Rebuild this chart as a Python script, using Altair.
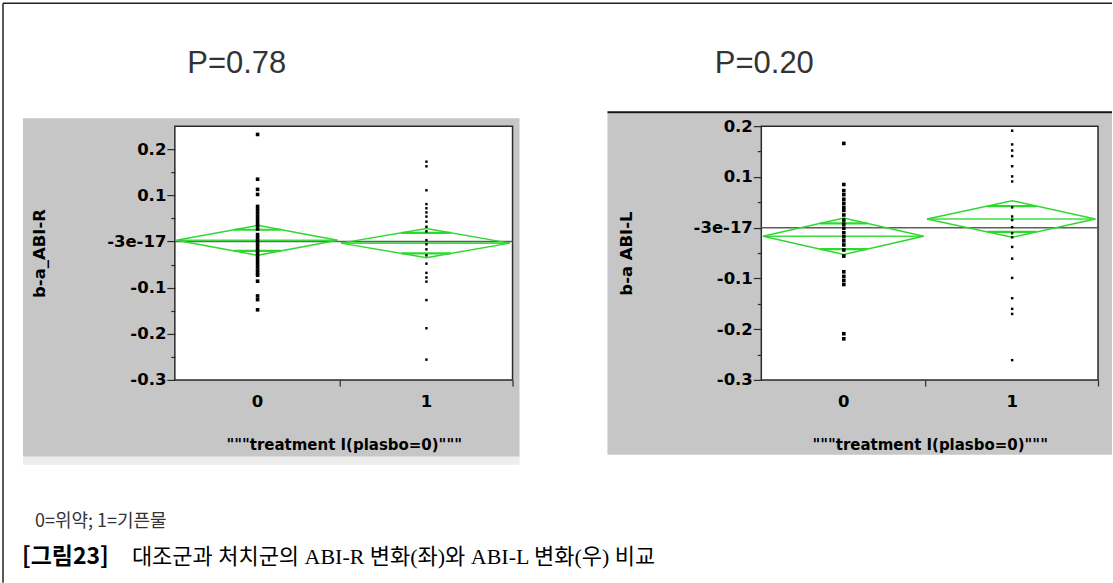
import altair as alt
import pandas as pd

# ---------------- values ----------------
treat_levels = ["0", "1"]

# left panel : b-a_ABI-R
abi_r_placebo = [0.232, 0.135, 0.113, 0.102, 0.076, 0.069, 0.062, 0.055, 0.048,
                 0.041, 0.034, 0.027, 0.015, 0.008, 0.001, -0.006, -0.013, -0.020,
                 -0.027, -0.034, -0.041, -0.048, -0.055, -0.062, -0.068, -0.073,
                 -0.086, -0.118, -0.126, -0.148]
abi_r_treat = [0.173, 0.163, 0.111, 0.081, 0.072, 0.063, 0.054, 0.043, 0.032,
               0.022, 0.003, -0.006, -0.017, -0.030, -0.048, -0.068, -0.078,
               -0.087, -0.127, -0.188, -0.256]
abi_r_mean = [0.0025, -0.0035]
abi_r_ci = [0.0325, 0.0315]

# right panel : b-a ABI-L
abi_l_placebo = [0.166, 0.085, 0.073, 0.065, 0.056, 0.048, 0.040, 0.034, 0.025,
                 0.015, 0.007, -0.001, -0.010, -0.018, -0.026, -0.034, -0.044,
                 -0.056, -0.087, -0.096, -0.104, -0.112, -0.209, -0.219]
abi_l_treat = [0.191, 0.164, 0.152, 0.141, 0.121, 0.101, 0.091, 0.040, 0.022,
               0.015, 0.001, -0.011, -0.019, -0.038, -0.061, -0.099, -0.139,
               -0.160, -0.170, -0.261]
abi_l_mean = [-0.017, 0.017]
abi_l_ci = [0.036, 0.036]

y_ticks_r = [-0.3, -0.25, -0.2, -0.15, -0.1, -0.05, 0.0, 0.05, 0.1, 0.15, 0.2]
y_ticks_l = [-0.3, -0.25, -0.2, -0.15, -0.1, -0.05, 0.0, 0.05, 0.1, 0.15, 0.2]

p_texts = ["P=0.78", "P=0.20"]
y_titles = ["b-a_ABI-R", "b-a ABI-L"]
x_title = '"""treatment I(plasbo=0)"""'
note_text = "0=위약; 1=기픈물"
caption_bold = "[그림23]"
caption_rest = "대조군과 처치군의 ABI-R 변화(좌)와 ABI-L 변화(우) 비교"

# ---------------- layout constants ----------------
H = 254
W_L, W_R = 338, 337
SPLIT = 0.487                 # boundary between the two group bands
XC = [0.245, 0.745]           # band centres
XL = [0.005, 0.492]
XR = [0.482, 0.992]
GREEN = "#2ed82e"
GRAY_BG = "#c6c6c6"
FRAME = "#2a2a2a"
TICKF = "DejaVu Sans"


def one():
    return alt.Data(values=[{"k": 1}])


def rect(x1, x2, y1, y2, color, **kw):
    return alt.Chart(one()).mark_rect(color=color, **kw).encode(
        x=alt.value(x1), x2=alt.value(x2), y=alt.value(y1), y2=alt.value(y2))


def hline(x1, x2, y, color, width):
    return alt.Chart(one()).mark_rule(color=color, strokeWidth=width).encode(
        x=alt.value(x1), x2=alt.value(x2), y=alt.value(y))


def vline(x, y1, y2, color, width):
    return alt.Chart(one()).mark_rule(color=color, strokeWidth=width).encode(
        x=alt.value(x), y=alt.value(y1), y2=alt.value(y2))


def label(txt, x, y, align, font, size, weight="normal", color="black"):
    return alt.Chart(one()).mark_text(
        align=align, baseline="middle", font=font, fontSize=size,
        fontWeight=weight, color=color, text=txt).encode(
        x=alt.value(x), y=alt.value(y))


MINOR = "abs(round(datum.value*20)) % 2 == 1"
LABEL_EXPR = ("abs(datum.value) < 1e-9 ? '-3e-17' : (" + MINOR + " ? '' : "
              "(datum.value < 0 ? '-' + format(-datum.value, '.1f') : format(datum.value, '.1f')))")


def panel(g0, g1, means, cis, ydom, yvals, ytitle, w, deco_back):
    xs = alt.Scale(domain=[0, 1], nice=False, zero=False)
    ys = alt.Scale(domain=ydom, nice=False, zero=False)
    xaxis = alt.Axis(values=[SPLIT, 1.0], labels=False, domain=False, grid=False,
                     tickSize=6, tickColor=FRAME, tickWidth=1.2,
                     title=x_title, titleFont=TICKF, titleFontSize=15,
                     titleFontWeight="bold", titleColor="black",
                     titleY=65, titleBaseline="middle", zindex=1)
    yaxis = alt.Axis(values=yvals, labelExpr=LABEL_EXPR, domain=False, grid=False,
                     tickSize={"condition": {"test": MINOR, "value": 4}, "value": 8},
                     tickColor=FRAME, tickWidth=1.2,
                     labelFont=TICKF, labelFontSize=16.5, labelFontWeight="bold",
                     labelColor="black", labelPadding=1,
                     title=ytitle, titleFont=TICKF, titleFontSize=16.5,
                     titleFontWeight="bold", titleColor="black",
                     titleX=-135, titleY=H / 2, titleAngle=270,
                     titleAlign="center", titleBaseline="middle", zindex=1)
    X = lambda f="x": alt.X(f + ":Q", scale=xs, axis=xaxis)
    Y = lambda f="y": alt.Y(f + ":Q", scale=ys, axis=yaxis)

    pts0 = pd.DataFrame({"x": [XC[0]] * len(g0), "y": g0})
    pts1 = pd.DataFrame({"x": [XC[1]] * len(g1), "y": g1})

    dia_rows, mean_rows, ov_rows = [], [], []
    for i in range(2):
        m, c = means[i], cis[i]
        for o, (xx, yy) in enumerate([(XL[i], m), (XC[i], m + c), (XR[i], m),
                                      (XC[i], m - c), (XL[i], m)]):
            dia_rows.append({"x": xx, "y": yy, "g": i, "o": o})
        mean_rows.append({"x": XL[i], "x2": XR[i], "y": m})
        k = 1 - 0.7071
        for s in (1, -1):
            ov_rows.append({"x": XC[i] - k * (XC[i] - XL[i]),
                            "x2": XC[i] + k * (XR[i] - XC[i]),
                            "y": m + s * 0.7071 * c})
    dia = pd.DataFrame(dia_rows)
    mean_df = pd.DataFrame(mean_rows)
    ov_df = pd.DataFrame(ov_rows)
    grand = pd.DataFrame({"x": [0.0], "x2": [1.0], "y": [0.0]})
    xlab = pd.DataFrame({"x": XC, "lab": treat_levels})

    plot_bg = alt.Chart(one()).mark_rect(
        fill="white", stroke=FRAME, strokeWidth=1.5).encode(
        x=alt.value(0), x2=alt.value(w), y=alt.value(0), y2=alt.value(H))

    grand_l = alt.Chart(grand).mark_rule(color="#5e5e5e", strokeWidth=1.5).encode(
        x=X(), x2="x2:Q", y=Y())
    dia_l = alt.Chart(dia).mark_line(color=GREEN, strokeWidth=1.5).encode(
        x=X(), y=Y(), detail="g:N", order="o:Q")
    mean_l = alt.Chart(mean_df).mark_rule(color=GREEN, strokeWidth=1.6, opacity=0.9).encode(
        x=X(), x2="x2:Q", y=Y())
    ov_l = alt.Chart(ov_df).mark_rule(color=GREEN, strokeWidth=2.2).encode(
        x=X(), x2="x2:Q", y=Y())
    d0 = alt.Chart(pts0).mark_square(color="black", size=13, opacity=1).encode(x=X(), y=Y())
    d1 = alt.Chart(pts1).mark_square(color="black", size=6, opacity=1).encode(x=X(), y=Y())
    xl = alt.Chart(xlab).mark_text(font=TICKF, fontSize=16.5, fontWeight="bold",
                                   color="black", baseline="middle").encode(
        x=X(), y=alt.value(H + 22), text="lab:N")

    layers = deco_back + [plot_bg, grand_l, dia_l, ov_l, mean_l, d0, d1, xl]
    return alt.layer(*layers).properties(width=w, height=H)


# left panel decorations (relative to its plot origin at page 175,126)
left_deco = [
    rect(-175, 938, -126, 457, "white"),
    hline(-172, 938, -123, "#222222", 1.5),
    vline(-172, -123, 457, "#222222", 1.5),
    rect(-152, 345, -8, 331, GRAY_BG),
    rect(-152, 345, 331, 339, "#ededed"),
    label(p_texts[0], 62, -62, "center", "Liberation Sans", 31, color="#333333"),
    label(note_text, -140, 396, "left", "Noto Sans CJK KR", 18, color="#333333"),
    label(caption_bold, -153, 431, "left", "Noto Sans CJK KR", 23, "bold"),
    label(caption_rest, -43, 431, "left", "Liberation Serif, Noto Sans CJK KR", 22),
]

# right panel decorations (relative to its plot origin at page 762,126)
right_deco = [
    rect(-154, 351, -13, 329, GRAY_BG),
    hline(-154, 351, -14, "#111111", 2),
    label(p_texts[1], 3, -62, "center", "Liberation Sans", 31, color="#333333"),
]

left = panel(abi_r_placebo, abi_r_treat, abi_r_mean, abi_r_ci,
             [-0.3, 0.25], y_ticks_r, y_titles[0], W_L, left_deco)
right = panel(abi_l_placebo, abi_l_treat, abi_l_mean, abi_l_ci,
              [-0.3, 0.2], y_ticks_l, y_titles[1], W_R, right_deco)

chart = alt.hconcat(left, right, spacing=249, bounds="flush").properties(
    padding=0, background="white"
).configure_view(strokeWidth=0)

chart.save("out.html", embed_options={"renderer": "svg", "actions": False})
